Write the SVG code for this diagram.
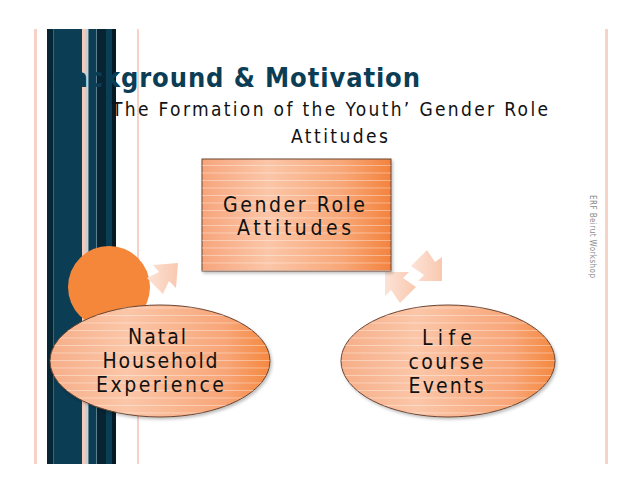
<svg xmlns="http://www.w3.org/2000/svg" width="638" height="493" viewBox="0 0 638 493">
  <defs>
    <style>
      .t{font-family:"DejaVu Sans Condensed","Liberation Sans Narrow","DejaVu Sans",sans-serif;font-stretch:condensed;fill:#111}
      .title{font-weight:bold;fill:#0b3d55;font-size:27px}
      .sub{font-size:19px;fill:#111}
      .node{font-size:21px;text-anchor:middle}
      .pink{fill:#f6d3c6}
      .arrow{fill:url(#ga)}
      .shape{stroke:#6b4430;stroke-width:1}
    </style>
    <linearGradient id="gb" x1="0" y1="0" x2="1" y2="0">
      <stop offset="0" stop-color="#f7a57c"/>
      <stop offset="0.35" stop-color="#fbc6a8"/>
      <stop offset="0.75" stop-color="#f8a676"/>
      <stop offset="1" stop-color="#f3833e"/>
    </linearGradient>
    <linearGradient id="ge" x1="0" y1="0" x2="1" y2="0">
      <stop offset="0" stop-color="#f6ae88"/>
      <stop offset="0.35" stop-color="#fbc6a8"/>
      <stop offset="0.8" stop-color="#f8a577"/>
      <stop offset="1" stop-color="#f4883f"/>
    </linearGradient>
    <linearGradient id="ga" x1="0" y1="0" x2="1" y2="0">
      <stop offset="0" stop-color="#fce3d6"/>
      <stop offset="1" stop-color="#f9c8b0"/>
    </linearGradient>
    <pattern id="lines" width="8" height="7.5" patternUnits="userSpaceOnUse">
      <rect x="0" y="0" width="8" height="0.8" fill="#ffffff" fill-opacity="0.45"/>
    </pattern>
    <filter id="sh" x="-10%" y="-10%" width="125%" height="130%">
      <feDropShadow dx="1.5" dy="2" stdDeviation="1.5" flood-color="#000" flood-opacity="0.25"/>
    </filter>
  </defs>

  <rect width="638" height="493" fill="#ffffff"/>

  <!-- decorative left bars -->
  <g id="decor">
    <rect class="pink" x="34" y="29" width="3" height="435"/>
    <rect x="47" y="29" width="69" height="435" fill="#0b3d55"/>
    <rect x="47" y="29" width="6" height="435" fill="#072634"/>
    <rect x="53" y="29" width="1" height="435" fill="#3b6478"/>
    <rect x="82" y="29" width="3" height="435" fill="#f3cbbb"/>
    <rect x="85" y="29" width="3" height="435" fill="#c9cfd3"/>
    <rect x="88" y="29" width="1" height="435" fill="#5d7f90"/>
    <rect x="96" y="29" width="1" height="435" fill="#5d7f90"/>
    <rect x="97" y="29" width="9" height="435" fill="#062432"/>
    <rect x="106" y="29" width="6" height="435" fill="#0b3d55"/>
    <rect x="112" y="29" width="4" height="435" fill="#041b26"/>
    <rect class="pink" x="137" y="29" width="2" height="435"/>
    <rect class="pink" x="605" y="29" width="3" height="435"/>
  </g>

  <!-- titles -->
  <text class="t title" x="52" y="87" textLength="368" lengthAdjust="spacing">Background &amp; Motivation</text>
  <text class="t sub" x="112" y="116" textLength="436" lengthAdjust="spacing">The Formation of the Youth’ Gender Role</text>
  <text class="t sub" x="291" y="143" textLength="97" lengthAdjust="spacing">Attitudes</text>

  <text class="t" transform="translate(590,195) rotate(90)" font-size="8" style="fill:#8a8a8a" textLength="83" lengthAdjust="spacing">ERF Beirut Workshop</text>

  <!-- orange circle -->
  <circle id="dot" cx="109" cy="287" r="41" fill="#f5873a"/>

  <!-- connectors -->
  <g id="connectors">
    <polygon class="arrow" points="178,263 176,288 169,281 163,294 147,278 159,272 153,265"/>
    <polygon class="arrow" points="442,281 418,281 424,275 411,266 427,250 435,262 442,257"/>
    <polygon class="arrow" points="385,272 409,272 403,278 416,287 400,303 391,290 385,296"/>
  </g>

  <!-- node: Gender Role Attitudes -->
  <g id="node-gender">
    <rect class="shape" x="202" y="159" width="189" height="112" fill="url(#gb)" filter="url(#sh)"/>
    <rect x="202" y="159" width="189" height="112" fill="url(#lines)"/>
    <text class="t node" x="294" y="212" textLength="142" lengthAdjust="spacing">Gender Role</text>
    <text class="t node" x="294" y="235" textLength="114" lengthAdjust="spacing">Attitudes</text>
  </g>

  <!-- node: Natal Household Experience -->
  <g id="node-natal">
    <ellipse class="shape" cx="160" cy="361" rx="110" ry="56" fill="url(#ge)" filter="url(#sh)"/>
    <ellipse cx="160" cy="361" rx="110" ry="56" fill="url(#lines)"/>
    <text class="t node" x="157" y="344" textLength="58" lengthAdjust="spacing">Natal</text>
    <text class="t node" x="160" y="368" textLength="115" lengthAdjust="spacing">Household</text>
    <text class="t node" x="160" y="392" textLength="128" lengthAdjust="spacing">Experience</text>
  </g>

  <!-- node: Life course Events -->
  <g id="node-life">
    <ellipse class="shape" cx="448" cy="361" rx="107" ry="56" fill="url(#ge)" filter="url(#sh)"/>
    <ellipse cx="448" cy="361" rx="107" ry="56" fill="url(#lines)"/>
    <text class="t node" x="447" y="345" textLength="50" lengthAdjust="spacing">Life</text>
    <text class="t node" x="446" y="369" textLength="75" lengthAdjust="spacing">course</text>
    <text class="t node" x="446" y="393" textLength="75" lengthAdjust="spacing">Events</text>
  </g>
</svg>
